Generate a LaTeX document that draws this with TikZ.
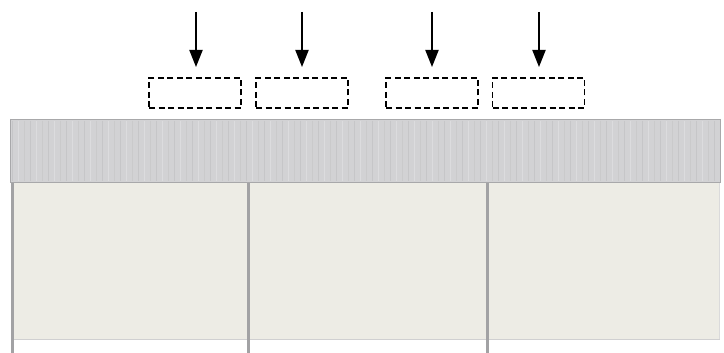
\documentclass[tikz,border=0pt]{standalone}
\usetikzlibrary{arrows.meta}
\definecolor{bandfill}{HTML}{D2D2D4}
\definecolor{bandline}{HTML}{A8A8AA}
\definecolor{postcol}{HTML}{A2A2A4}
\definecolor{panelfill}{HTML}{EDECE5}
\definecolor{stripeA}{HTML}{C6C6C8}
\definecolor{stripeB}{HTML}{DCDCDE}
\tikzset{
  slot/.style={draw=black, line width=1.6pt, dash pattern=on 6pt off 3.5pt, minimum width=92pt, minimum height=30pt, inner sep=0pt},
  downarrow/.style={line width=2pt, -{Triangle[length=17pt,width=13pt]}},
  post/.style={draw=postcol, line width=3pt},
}
\begin{document}
\begin{tikzpicture}[x=1pt,y=-1pt]
\useasboundingbox (0,0) rectangle (724,353);
\fill[white] (0,0) rectangle (724,353);
% panels
\fill[panelfill] (12,183) rectangle (720,339);
\draw[color=postcol!50, line width=1pt] (12,339) -- (720,339);
\draw[color=postcol!40, line width=1pt] (719.5,183) -- (719.5,339);
% band
\fill[bandfill] (10,119) rectangle (721,183);
\foreach \i in {0,...,118} {
  \pgfmathsetmacro{\xx}{12+6*\i}
  \pgfmathtruncatemacro{\m}{mod(\i*7,3)}
  \ifnum\m=0
    \draw[stripeA, line width=0.8pt] (\xx,121) -- (\xx,181);
  \else\ifnum\m=1
    \draw[stripeB, line width=1pt] (\xx,121) -- (\xx,181);
  \else
    \draw[stripeA!70!bandfill, line width=0.6pt] (\xx,121) -- (\xx,181);
  \fi\fi
}
\draw[bandline, line width=1.2pt] (10,119.5) -- (721,119.5);
\draw[bandline, line width=1.6pt] (10,182.5) -- (721,182.5);
\draw[bandline, line width=1pt] (10.5,119) -- (10.5,183);
\draw[bandline, line width=1pt] (720.5,119) -- (720.5,183);
% posts
\draw[post] (12,183) -- (12,353);
\draw[post] (248.5,183) -- (248.5,353);
\draw[post] (487,183) -- (487,353);
% slots
\node[slot] (s1) at (195,93) {};
\node[slot] (s2) at (302,93) {};
\node[slot] (s3) at (432,93) {};
\node[slot] (s4) at (538.5,93) {};
% arrows
\foreach \n/\x in {1/196,2/302,3/432,4/539} {
  \coordinate (a\n) at (\x,12);
  \coordinate (b\n) at (\x,67);
  \draw[downarrow] (a\n) -- (b\n);
}
\end{tikzpicture}
\end{document}
